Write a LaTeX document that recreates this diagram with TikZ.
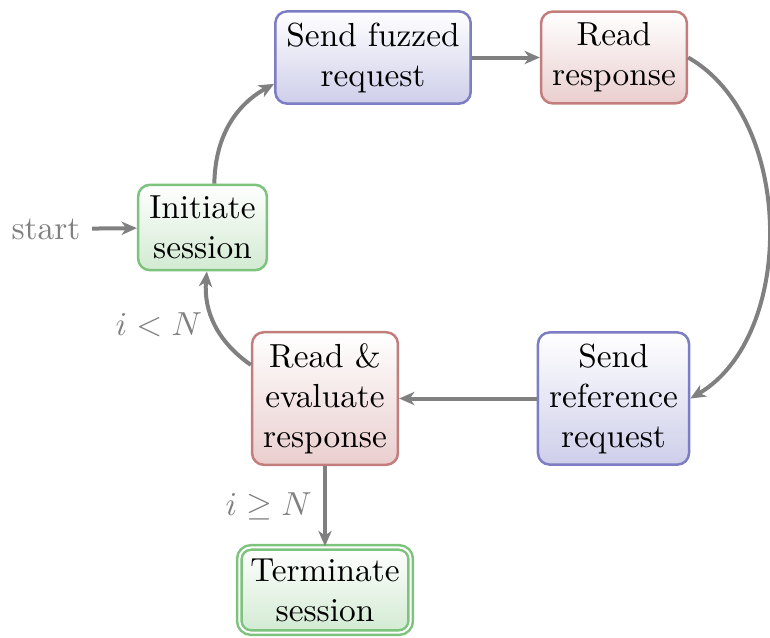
\documentclass[tikz,border=0pt]{standalone}
\usetikzlibrary{arrows.meta}
\definecolor{gborder}{RGB}{125,194,125}
\definecolor{gfill}{RGB}{210,234,210}
\definecolor{bborder}{RGB}{125,125,196}
\definecolor{bfill}{RGB}{206,206,234}
\definecolor{rborder}{RGB}{196,125,125}
\definecolor{rfill}{RGB}{234,206,206}
\definecolor{arrowgray}{RGB}{128,128,128}
\tikzset{
  box/.style={rounded corners=3.5pt, line width=0.75pt, align=center, inner sep=0.3333em},
  gbox/.style={box, draw=gborder, top color=white, bottom color=gfill},
  bbox/.style={box, draw=bborder, top color=white, bottom color=bfill},
  rbox/.style={box, draw=rborder, top color=white, bottom color=rfill},
  flow/.style={-{Stealth[length=4.6pt,width=4pt,inset=1.4pt]}, draw=arrowgray, line width=1.2pt},
  lbl/.style={text=arrowgray}
}
\begin{document}
\begin{tikzpicture}[x=0.3pt,y=0.3pt]
\useasboundingbox (0,0) rectangle (770,-637);
\node[gbox] (init) at (202.5,-227.5) {Initiate\\session};
\node[bbox] (fuzz) at (373,-57.5) {Send fuzzed\\request};
\node[rbox] (read) at (614,-57.5) {Read\\response};
\node[bbox] (ref) at (613.5,-398.5) {Send\\reference\\request};
\node[rbox] (eval) at (325,-398.5) {Read \&\\evaluate\\response};
\node[gbox, double=white, double distance=0.6pt] (term) at (325,-590) {Terminate\\session};
\node[lbl] (start) at (46,-229) {start};
\draw[flow] (start) -- (init);
\draw[flow] (init) to[bend left=30] (fuzz);
\draw[flow] (fuzz) -- (read);
\draw[flow] (read.east) to[bend left=60, looseness=0.92] (ref.east);
\draw[flow] (ref) -- (eval);
\draw[flow] (eval) to[bend left=30] node[left, lbl] {$i<N$} (init);
\draw[flow] (eval) -- node[left, lbl] {$i\geq N$} (term);
\end{tikzpicture}
\end{document}
